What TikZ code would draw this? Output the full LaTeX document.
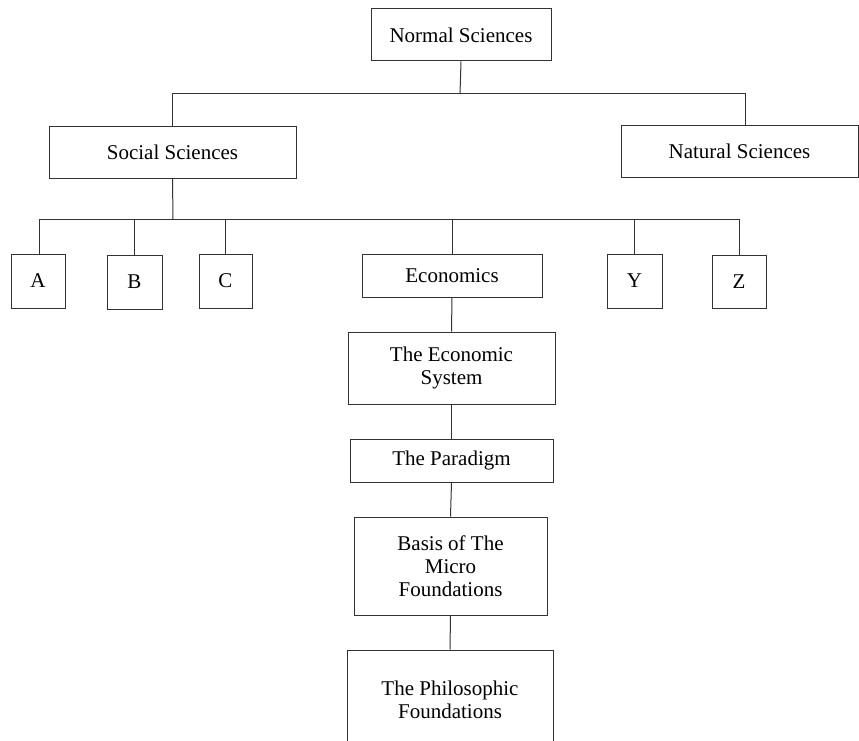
\documentclass[tikz,border=0pt]{standalone}
\usepackage{fontspec}
\setmainfont{Liberation Serif}
\begin{document}
\begin{tikzpicture}[x=1pt,y=-1pt,
  box/.style={draw=black!80,line width=1pt,rectangle,inner sep=0pt,align=center,
    font=\fontsize{21}{23}\selectfont},
  link/.style={draw=black!80,line width=1pt}]
\useasboundingbox (0,0) rectangle (859,741);
\clip (0,0) rectangle (859,741);
\node[box,minimum width=180,minimum height=52] (ns) at (461,35) {Normal Sciences};
\node[box,minimum width=247,minimum height=51] (ss) at (172.5,152.5) {Social Sciences};
\node[box,minimum width=237,minimum height=51] (nat) at (739.5,151.5) {Natural Sciences};
\node[box,minimum width=54,minimum height=54] (A) at (38,281) {A};
\node[box,minimum width=55,minimum height=54] (B) at (134.5,282) {B};
\node[box,minimum width=53,minimum height=54] (C) at (225.5,281) {C};
\node[box,minimum width=180,minimum height=43] (eco) at (452,275.5) {Economics};
\node[box,minimum width=55,minimum height=54] (Y) at (634.5,281) {Y};
\node[box,minimum width=54,minimum height=53] (Z) at (739,281.5) {Z};
\node[box,minimum width=207,minimum height=72] (sys) at (451.5,368) {The Economic\\System};
\node[box,minimum width=203,minimum height=43] (par) at (451.5,460.5) {The Paradigm};
\node[box,minimum width=193,minimum height=98] (basis) at (450.5,566) {Basis of The\\Micro\\Foundations};
\node[box,minimum width=206,minimum height=100] (phil) at (450,700) {The Philosophic\\Foundations};
\coordinate (j1) at (460,94);
\coordinate (j2) at (173,219);
\path[link] (ns.south) -- (j1);
\path[link] (ss.north) |- (j1);
\path[link] ([xshift=5.5]nat.north) |- (j1);
\path[link] (ss.south) -- (j2);
\path[link] ([xshift=1]A.north) |- (j2);
\path[link] (B.north) |- (j2);
\path[link] (C.north) |- (j2);
\path[link] (eco.north) |- (j2);
\path[link] (Y.north) |- (j2);
\path[link] (Z.north) |- (j2);
\path[link] (eco.south) -- (sys.north);
\path[link] (sys.south) -- (par.north);
\path[link] (par.south) -- (basis.north);
\path[link] (basis.south) -- (phil.north);
\end{tikzpicture}
\end{document}
